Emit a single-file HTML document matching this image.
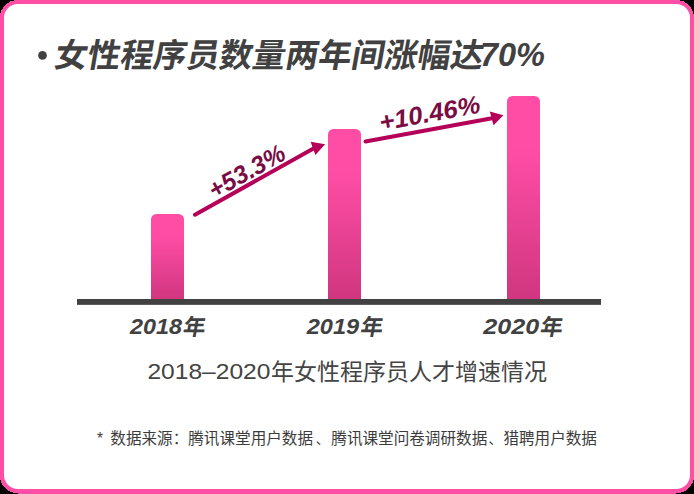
<!DOCTYPE html>
<html lang="zh-CN"><head><meta charset="utf-8"><title>女性程序员数量两年间涨幅达70%</title>
<style>
html,body{margin:0;padding:0;background:#000;}
body{width:694px;height:494px;position:relative;overflow:hidden;font-family:"Liberation Sans",sans-serif;}
.t{position:absolute;margin:0;color:transparent;white-space:nowrap;font-family:"Liberation Sans",sans-serif;line-height:1;overflow:hidden}
</style></head><body>
<svg width="694" height="494" viewBox="0 0 694 494" style="position:absolute;left:0;top:0;display:block">
<defs>
<linearGradient id="bg" x1="0" y1="0" x2="0" y2="1"><stop offset="0" stop-color="#ff4da6"/><stop offset="0.25" stop-color="#ff4da6"/><stop offset="1" stop-color="#d0367f"/></linearGradient>
</defs>
<path fill="#ff4ea6" shape-rendering="crispEdges" d="M17.5 0H676.5A17.5 17.5 0 0 1 694 17.5V476.1A19.5 17.5 0 0 1 674.5 493.6V494H19.5V493.6A19.5 17.5 0 0 1 0 476.1V17.5A17.5 17.5 0 0 1 17.5 0Z"/>
<rect x="4" y="4" width="686" height="485" rx="14" ry="14" fill="#fff"/>
<path fill="url(#bg)" d="M151 219.5a5.5 5.5 0 0 1 5.5 -5.5h22.0a5.5 5.5 0 0 1 5.5 5.5v80.5h-33z"/>
<path fill="url(#bg)" d="M328 134.5a5.5 5.5 0 0 1 5.5 -5.5h22.0a5.5 5.5 0 0 1 5.5 5.5v165.5h-33z"/>
<path fill="url(#bg)" d="M507 101.5a5.5 5.5 0 0 1 5.5 -5.5h22.0a5.5 5.5 0 0 1 5.5 5.5v198.5h-33z"/>
<rect x="77" y="299" width="524" height="5.85" fill="#424242"/>
<path d="M195 214.7L314.81 147.77" stroke="#b50059" stroke-width="4" stroke-linecap="round" fill="none"/><path fill="#b50059" d="M325.1 144.2L310.6 141.7L315.4 155.1Z"/>
<path d="M365.5 141.5L493.41 117.96" stroke="#b50059" stroke-width="4" stroke-linecap="round" fill="none"/><path fill="#b50059" d="M503.4 115.2L489.8 111.6L493.5 125.3Z"/>
<circle cx="42.5" cy="55.4" r="4.35" fill="#414141"/>
<text transform="translate(53.1 66.8) skewX(-10)" x="0" y="0" font-family='"Liberation Sans", "Noto Sans CJK SC", sans-serif' font-size="33" font-weight="bold" fill="#414141">女性程序员数量两年间涨幅达</text>
<text x="480" y="66.1" font-family='"Liberation Sans", sans-serif' font-size="34" font-weight="bold" font-style="italic" fill="#414141" textLength="65" lengthAdjust="spacingAndGlyphs">70%</text>
<text x="130" y="334" font-family='"Liberation Sans", sans-serif' font-size="22" font-weight="bold" font-style="italic" fill="#414141" textLength="52" lengthAdjust="spacingAndGlyphs">2018</text>
<text transform="translate(182.07 335) skewX(-10)" x="0" y="0" font-family='"Liberation Sans", "Noto Sans CJK SC", sans-serif' font-size="22.5" font-weight="bold" fill="#414141">年</text>
<text x="306.7" y="334" font-family='"Liberation Sans", sans-serif' font-size="22" font-weight="bold" font-style="italic" fill="#414141" textLength="52.5" lengthAdjust="spacingAndGlyphs">2019</text>
<text transform="translate(359.4 335) skewX(-10)" x="0" y="0" font-family='"Liberation Sans", "Noto Sans CJK SC", sans-serif' font-size="22.5" font-weight="bold" fill="#414141">年</text>
<text x="483.2" y="334" font-family='"Liberation Sans", sans-serif' font-size="22" font-weight="bold" font-style="italic" fill="#414141" textLength="56" lengthAdjust="spacingAndGlyphs">2020</text>
<text transform="translate(539.24 335) skewX(-10)" x="0" y="0" font-family='"Liberation Sans", "Noto Sans CJK SC", sans-serif' font-size="22.5" font-weight="bold" fill="#414141">年</text>
<text transform="translate(214.2 199.2) rotate(-29)" x="0" y="0" font-family='"Liberation Sans", sans-serif' font-size="25" font-weight="bold" font-style="italic" fill="#7a0c44" textLength="84" lengthAdjust="spacingAndGlyphs">+53.3%</text>
<text transform="translate(381 130.9) rotate(-10.4)" x="0" y="0" font-family='"Liberation Sans", sans-serif' font-size="25" font-weight="bold" font-style="italic" fill="#7a0c44" textLength="102" lengthAdjust="spacingAndGlyphs">+10.46%</text>
<text x="147.4" y="379.2" font-family='"Liberation Sans", sans-serif' font-size="22.7" fill="#444444" textLength="123" lengthAdjust="spacingAndGlyphs">2018–2020</text>
<text x="271" y="380" font-family='"Liberation Sans", "Noto Sans CJK SC", sans-serif' font-size="23" fill="#444444">年女性程序员人才增速情况</text>
<text x="97" y="443.9" font-family='"Liberation Sans", "Noto Sans CJK SC", sans-serif' font-size="15.6" fill="#3c3c3c">*</text>
<text x="110.3" y="443.9" font-family='"Liberation Sans", "Noto Sans CJK SC", sans-serif' font-size="15.6" fill="#3c3c3c">数据来源：腾讯课堂用户数据</text>
<text x="315.8" y="443.7" font-family='"Liberation Sans", "Noto Sans CJK SC", sans-serif' font-size="13.7" fill="#3c3c3c">、</text>
<text x="331.3" y="443.9" font-family='"Liberation Sans", "Noto Sans CJK SC", sans-serif' font-size="15.6" fill="#3c3c3c">腾讯课堂问卷调研数据</text>
<text x="488.6" y="443.7" font-family='"Liberation Sans", "Noto Sans CJK SC", sans-serif' font-size="13.7" fill="#3c3c3c">、</text>
<text x="503.4" y="443.9" font-family='"Liberation Sans", "Noto Sans CJK SC", sans-serif' font-size="15.6" fill="#3c3c3c">猎聘用户数据</text>
</svg>
<h1 class="t" style="left:36px;top:38px;width:520px;height:34px;font-size:32px;font-weight:bold;font-style:italic">• 女性程序员数量两年间涨幅达70%</h1>
<div class="t" style="left:190px;top:150px;width:140px;height:60px;font-size:22px;font-weight:bold;font-style:italic">+53.3%</div>
<div class="t" style="left:375px;top:95px;width:120px;height:40px;font-size:22px;font-weight:bold;font-style:italic">+10.46%</div>
<div class="t" style="left:129px;top:314px;width:80px;height:24px;font-size:22px;font-weight:bold;font-style:italic">2018年</div>
<div class="t" style="left:306px;top:314px;width:80px;height:24px;font-size:22px;font-weight:bold;font-style:italic">2019年</div>
<div class="t" style="left:483px;top:314px;width:82px;height:24px;font-size:22px;font-weight:bold;font-style:italic">2020年</div>
<p class="t" style="left:148px;top:360px;width:402px;height:24px;font-size:22px">2018–2020年女性程序员人才增速情况</p>
<p class="t" style="left:97px;top:429px;width:502px;height:18px;font-size:15px">* 数据来源：腾讯课堂用户数据、腾讯课堂问卷调研数据、猎聘用户数据</p>
</body></html>
